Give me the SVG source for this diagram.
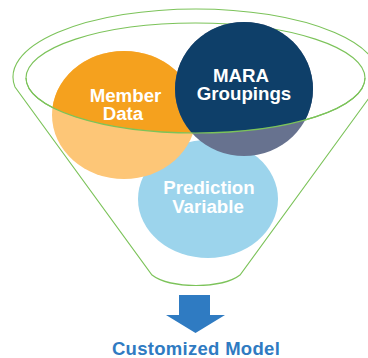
<svg xmlns="http://www.w3.org/2000/svg" width="368" height="358" viewBox="0 0 368 358">
  <style>
    .rim { fill: none; stroke: #7cc35a; stroke-width: 1.1; }
    .label { font-family: "Liberation Sans", Arial, sans-serif; font-weight: bold; font-size: 18.7px; fill: #ffffff; text-anchor: middle; }
    .out { font-family: "Liberation Sans", Arial, sans-serif; font-weight: bold; font-size: 18.5px; fill: #2f7bc2; text-anchor: middle; letter-spacing: 0.3px; }
  </style>
  <defs>
    <!-- region inside the funnel mouth: shapes are shown in full colour here -->
    <clipPath id="mouth">
      <ellipse cx="195.5" cy="78" rx="169.5" ry="55"/>
      <rect x="0" y="0" width="368" height="78"/>
    </clipPath>
  </defs>
  <rect width="368" height="358" fill="#ffffff"/>

  <!-- funnel outline: outer rim and body -->
  <g id="funnel">
    <path class="rim" d="M15,87 A183,68 0 1 1 377,87 L240,275 C222,289 170,289 152,275 Z"/>
    <ellipse class="rim" cx="195.5" cy="78" rx="169.5" ry="55"/>
  </g>

  <g id="prediction-variable">
    <ellipse cx="208" cy="199" rx="70" ry="59" fill="#9cd4ec"/>
    <text class="label" x="209" y="194">Prediction</text>
    <text class="label" x="208" y="213">Variable</text>
  </g>

  <g id="member-data">
    <ellipse cx="124" cy="115" rx="72" ry="64" fill="#fdc677"/>
    <ellipse cx="124" cy="115" rx="72" ry="64" fill="#f5a11e" clip-path="url(#mouth)"/>
    <text class="label" x="125.5" y="102">Member</text>
    <text class="label" x="123" y="120">Data</text>
  </g>

  <g id="mara-groupings">
    <ellipse cx="244" cy="89" rx="69" ry="67" fill="#67728f"/>
    <ellipse cx="244" cy="89" rx="69" ry="67" fill="#0e3f69" clip-path="url(#mouth)"/>
    <text class="label" x="241" y="82">MARA</text>
    <text class="label" x="244" y="100">Groupings</text>
  </g>

  <!-- front edge of the funnel mouth, over the shapes -->
  <g id="connectors">
    <path class="rim" d="M26,78 A169.5,55 0 0 0 365,78"/>
    <path id="arrow" d="M179,295 H210 V315 H225 L195.5,333 L166,315 H179 Z" fill="#2f7bc2"/>
  </g>

  <g id="customized-model">
    <text class="out" x="196" y="355">Customized Model</text>
  </g>
</svg>
